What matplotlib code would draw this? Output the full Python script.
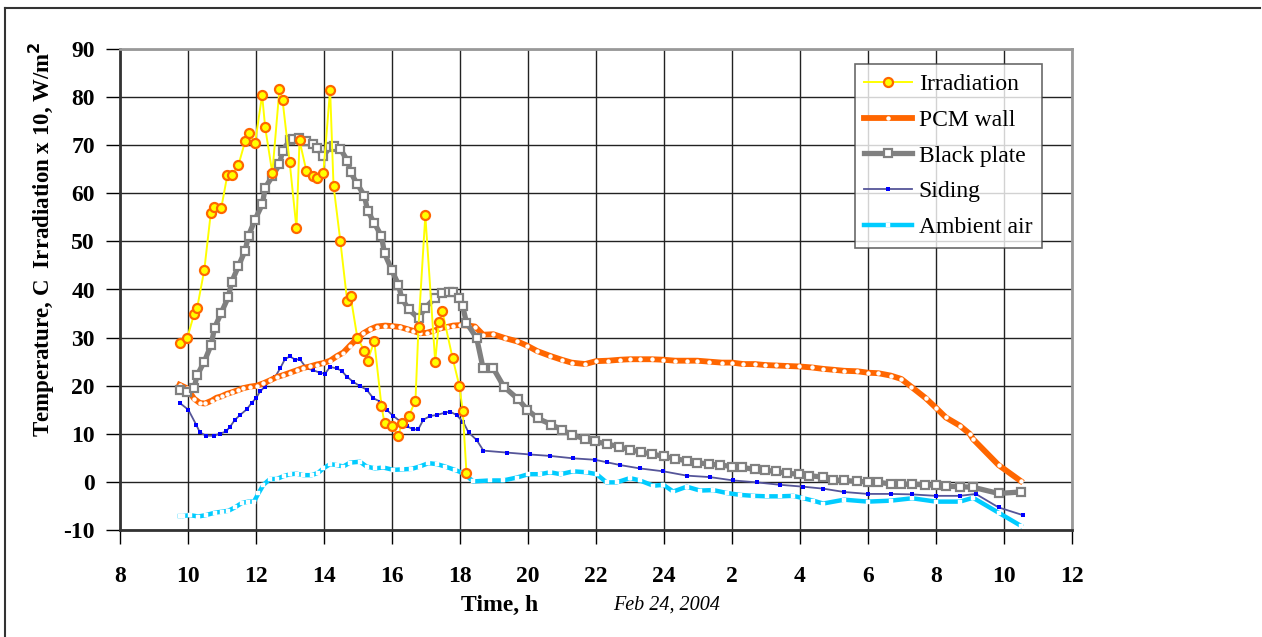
import matplotlib
matplotlib.use("Agg")
import matplotlib.pyplot as plt
from matplotlib.lines import Line2D

# time in hours from the start of Feb 24 (values > 24 are the next morning)
irr_t = [9.76, 9.98, 10.18, 10.27, 10.48, 10.67, 10.77, 10.98, 11.16, 11.28,
         11.48, 11.68, 11.78, 11.97, 12.18, 12.27, 12.48, 12.69, 12.78, 12.99,
         13.19, 13.28, 13.48, 13.67, 13.78, 13.98, 14.18, 14.28, 14.48, 14.68,
         14.78, 14.98, 15.19, 15.28, 15.48, 15.69, 15.78, 15.99, 16.19, 16.29,
         16.49, 16.69, 16.78, 16.98, 17.27, 17.38, 17.48, 17.78, 17.98, 18.08,
         18.19]
irr_v = [28.8, 30.0, 34.9, 36.2, 44.1, 55.9, 57.1, 57.0, 63.9, 63.8,
         65.8, 70.8, 72.6, 70.4, 80.4, 73.7, 64.2, 81.7, 79.4, 66.5,
         52.7, 71.0, 64.7, 63.7, 63.2, 64.2, 81.5, 61.6, 50.1, 37.7,
         38.7, 30.0, 27.2, 25.2, 29.2, 15.8, 12.2, 11.6, 9.6, 12.3,
         13.6, 16.9, 32.3, 55.4, 25.0, 33.2, 35.5, 25.8, 20.0, 14.8,
         1.9]

pcm_t = [9.75, 9.96, 10.18, 10.35, 10.5, 10.7, 10.84, 10.99, 11.14, 11.28,
         11.48, 11.63, 11.82, 12.02, 12.22, 12.41, 12.61, 12.8, 13.0, 13.2,
         13.39, 13.59, 13.78, 13.98, 14.18, 14.37, 14.57, 14.76, 14.96, 15.16,
         15.35, 15.55, 15.8, 15.99, 16.24, 16.43, 16.63, 16.82, 17.02, 17.22,
         17.41, 17.61, 17.8, 18.0, 18.25, 18.44, 18.68, 18.98, 19.32, 19.69,
         19.98, 20.27, 20.65, 20.99, 21.28, 21.68, 22.0, 22.36, 22.71, 23.0,
         23.3, 23.64, 23.98, 24.33, 24.67, 24.98, 25.33, 25.7, 26.0, 26.33,
         26.67, 26.97, 27.3, 27.61, 27.98, 28.34, 28.68, 29.0, 29.3, 29.69,
         30.0, 30.3, 30.67, 30.98, 31.27, 31.7, 32.0, 32.29, 32.7, 32.99,
         33.09, 33.84, 34.49]
pcm_v = [20.2, 19.5, 17.3, 16.4, 16.3, 16.9, 17.5, 17.8, 18.3, 18.6,
         19.1, 19.5, 19.8, 20.0, 20.5, 21.1, 21.8, 22.2, 22.7, 23.2,
         23.7, 24.0, 24.4, 24.7, 25.2, 26.1, 26.9, 28.3, 29.7, 30.9,
         31.7, 32.3, 32.5, 32.4, 32.2, 31.8, 31.4, 30.9, 31.0, 31.4,
         31.9, 32.2, 32.5, 32.6, 32.5, 32.3, 30.6, 30.7, 29.9, 29.2,
         28.3, 27.2, 26.2, 25.4, 24.8, 24.5, 25.1, 25.2, 25.4, 25.5,
         25.5, 25.5, 25.4, 25.2, 25.2, 25.2, 25.0, 24.8, 24.8, 24.5,
         24.5, 24.3, 24.2, 24.1, 24.0, 23.8, 23.5, 23.3, 23.1, 23.0,
         22.7, 22.6, 22.1, 21.4, 19.8, 17.4, 15.4, 13.4, 11.7, 10.0,
         8.9, 3.5, 0.2]

bp_t = [9.75, 9.96, 10.18, 10.27, 10.48, 10.68, 10.78, 10.98, 11.19, 11.28,
        11.48, 11.68, 11.78, 11.97, 12.19, 12.27, 12.48, 12.69, 12.78, 12.99,
        13.1, 13.27, 13.47, 13.69, 13.78, 13.98, 14.18, 14.28, 14.48, 14.69,
        14.78, 14.98, 15.19, 15.28, 15.48, 15.69, 15.78, 15.99, 16.19, 16.29,
        16.49, 16.78, 16.98, 17.27, 17.48, 17.69, 17.78, 17.98, 18.08, 18.19,
        18.49, 18.68, 18.98, 19.29, 19.71, 19.98, 20.29, 20.69, 21.0, 21.29,
        21.69, 21.98, 22.31, 22.69, 23.0, 23.31, 23.65, 24.0, 24.33, 24.67,
        24.98, 25.31, 25.66, 26.0, 26.3, 26.67, 26.98, 27.29, 27.61, 27.96,
        28.25, 28.68, 28.98, 29.3, 29.69, 30.0, 30.3, 30.67, 30.98, 31.3,
        31.67, 32.0, 32.29, 32.7, 33.08, 33.84, 34.49]
bp_v = [19.1, 18.6, 19.6, 22.2, 25.0, 28.5, 32.0, 35.2, 38.5, 41.5,
        44.8, 48.1, 51.2, 54.5, 57.8, 61.2, 63.5, 66.0, 68.8, 71.0,
        71.2, 71.4, 70.8, 70.3, 69.4, 67.8, 69.6, 69.9, 69.2, 66.8,
        64.4, 61.9, 59.5, 56.4, 53.8, 51.1, 47.5, 44.1, 41.0, 38.1,
        35.9, 34.0, 36.2, 38.3, 39.2, 39.5, 39.4, 38.2, 36.5, 33.1,
        29.9, 23.6, 23.6, 19.8, 17.2, 15.0, 13.2, 11.9, 10.8, 9.8,
        8.9, 8.4, 7.9, 7.3, 6.7, 6.2, 5.8, 5.3, 4.8, 4.4,
        4.0, 3.7, 3.5, 3.2, 3.0, 2.6, 2.4, 2.2, 1.8, 1.6,
        1.3, 1.0, 0.4, 0.3, 0.1, 0.0, -0.1, -0.4, -0.5, -0.5,
        -0.6, -0.7, -0.9, -1.0, -1.1, -2.4, -2.1]

sid_t = [9.76, 10.01, 10.24, 10.35, 10.53, 10.75, 10.94, 11.12, 11.24, 11.38,
         11.53, 11.73, 11.87, 12.0, 12.12, 12.26, 12.41, 12.56, 12.71, 12.85,
         13.0, 13.15, 13.29, 13.49, 13.69, 13.88, 14.03, 14.18, 14.37, 14.52,
         14.67, 14.86, 15.06, 15.25, 15.45, 15.65, 15.84, 16.04, 16.24, 16.43,
         16.63, 16.77, 16.92, 17.12, 17.31, 17.56, 17.71, 17.9, 18.1, 18.25,
         18.49, 18.69, 19.37, 20.06, 20.65, 21.33, 21.97, 22.31, 22.71, 23.29,
         23.98, 24.67, 25.35, 26.04, 26.73, 27.41, 28.1, 28.68, 29.3, 30.0,
         30.67, 31.3, 32.0, 32.7, 33.17, 33.84, 34.55]
sid_v = [16.4, 15.0, 11.9, 10.3, 9.6, 9.6, 10.0, 10.5, 11.5, 12.9,
         13.9, 15.1, 16.4, 17.4, 18.8, 19.8, 21.1, 21.8, 23.6, 25.5,
         26.1, 25.4, 25.5, 23.6, 23.2, 22.7, 22.5, 23.9, 23.6, 23.1,
         21.9, 20.8, 19.9, 19.2, 17.4, 16.7, 15.0, 13.7, 12.6, 11.6,
         10.9, 10.9, 12.9, 13.7, 13.9, 14.4, 14.6, 13.9, 12.4, 10.3,
         8.7, 6.5, 6.1, 5.7, 5.4, 4.9, 4.6, 4.1, 3.5, 2.8,
         2.2, 1.3, 1.0, 0.3, -0.1, -0.6, -1.0, -1.4, -2.1, -2.5,
         -2.5, -2.6, -2.9, -2.9, -2.5, -5.3, -6.9]

amb_t = [9.76, 9.86, 10.06, 10.3, 10.53, 10.79, 10.99, 11.19, 11.38, 11.58,
         11.77, 11.94, 12.07, 12.22, 12.41, 12.61, 12.81, 13.0, 13.2, 13.39,
         13.64, 13.83, 13.98, 14.18, 14.37, 14.57, 14.76, 15.06, 15.25, 15.5,
         15.74, 16.04, 16.28, 16.57, 16.82, 17.07, 17.32, 17.56, 17.85, 18.1,
         18.39, 18.88, 19.27, 19.67, 20.01, 20.35, 20.65, 20.96, 21.33, 21.72,
         22.02, 22.31, 22.61, 23.0, 23.29, 23.69, 23.98, 24.27, 24.67, 25.06,
         25.45, 25.84, 26.24, 26.63, 27.02, 27.41, 27.8, 28.1, 28.39, 28.68,
         29.3, 30.0, 30.67, 31.3, 32.0, 32.7, 33.09, 33.84, 34.49]
amb_v = [-7.1, -7.1, -6.9, -7.2, -6.9, -6.4, -6.2, -6.0, -5.3, -4.4,
         -4.1, -4.1, -2.4, -0.6, 0.6, 0.6, 1.2, 1.6, 1.7, 1.4,
         1.4, 1.9, 2.8, 3.7, 3.5, 3.2, 4.0, 4.2, 3.2, 2.8,
         3.0, 2.5, 2.6, 2.7, 3.2, 3.9, 3.7, 3.2, 2.5, 1.8,
         0.1, 0.3, 0.3, 0.9, 1.6, 1.6, 2.0, 1.6, 2.2, 2.0,
         1.6, -0.1, -0.1, 0.8, 0.3, -0.8, -0.6, -2.0, -1.0, -1.8,
         -1.7, -2.3, -2.7, -2.9, -3.0, -3.0, -2.9, -3.4, -3.9, -4.5,
         -3.7, -4.1, -3.9, -3.4, -4.1, -4.1, -3.3, -6.4, -9.1]

xticks = list(range(8, 37, 2))
xlabels = ['8', '10', '12', '14', '16', '18', '20', '22', '24',
           '2', '4', '6', '8', '10', '12']
yticks = list(range(-10, 91, 10))

plt.rcParams['font.family'] = ['Liberation Serif', 'DejaVu Serif']
plt.rcParams['axes.unicode_minus'] = False

fig = plt.figure(figsize=(12.62, 6.37), dpi=100)
ax = fig.add_axes([120/1262, 107/637, 952/1262, 481/637])

# series styles
s_irr = dict(color='#FFFF00', lw=1.4, marker='o', ms=6.5, mfc='#FFFF00',
             mec='#FF6600', mew=1.6)
s_pcm = dict(color='#FF6600', lw=4.2, marker='o', ms=3.2, mfc='white',
             mec='white', mew=0)
s_bp = dict(color='#808080', lw=3.8, marker='s', ms=6.4, mfc='white',
            mec='#808080', mew=1.6)
s_sid = dict(color='#555599', lw=1.3, marker='s', ms=2.6, mfc='#0000FF',
             mec='#0000FF', mew=0)
s_amb = dict(color='#00CCFF', lw=3.2, marker='s', ms=2.6, mfc='white',
             mec='white', mew=0.3)

ax.plot(amb_t, amb_v, zorder=3, **s_amb)
ax.plot(sid_t, sid_v, zorder=4, **s_sid)
ax.plot(pcm_t, pcm_v, zorder=5, **s_pcm)
ax.plot(bp_t, bp_v, zorder=6, **s_bp)
ax.plot(irr_t, irr_v, zorder=7, **s_irr)

ax.set_xlim(8, 36)
ax.set_ylim(-10, 90)
ax.set_xticks(xticks)
ax.set_xticklabels(xlabels, fontweight='bold', fontsize=17)
ax.set_yticks(yticks)
ax.set_yticklabels([str(v) for v in yticks], fontweight='bold', fontsize=17)
ax.grid(True, color='#222222', lw=1.0)
ax.set_axisbelow(True)

ax.tick_params(axis='x', direction='out', length=10, width=1, pad=16)
ax.tick_params(axis='y', direction='out', length=10, width=1, pad=8)

for side in ['left', 'bottom']:
    ax.spines[side].set_color('#333333')
    ax.spines[side].set_linewidth(2)
for side in ['top', 'right']:
    ax.spines[side].set_color('#999999')
    ax.spines[side].set_linewidth(2)

fig.text(42/1262, (637 - 239)/637,
         'Temperature, C  Irradiation x 10, W/m$^\\mathbf{2}$',
         rotation=90, ha='center', va='center', fontsize=16.5, fontweight='bold')

fig.text(500/1262, 32/637, 'Time, h', ha='center', va='center',
         fontsize=17, fontweight='bold')
fig.text(667/1262, 32/637, 'Feb 24, 2004', ha='center', va='center',
         fontsize=14.5, style='italic')

handles = [Line2D([], [], **s_irr), Line2D([], [], **s_pcm),
           Line2D([], [], **s_bp), Line2D([], [], **s_sid),
           Line2D([], [], **s_amb)]
names = ['Irradiation', 'PCM wall', 'Black plate', 'Siding', 'Ambient air']
leg = ax.legend(handles, names, loc='upper left', bbox_to_anchor=(0.772, 0.968),
                fontsize=17, frameon=True, fancybox=False, handlelength=2.0,
                handletextpad=0.3, borderpad=0.4, labelspacing=0.6,
                borderaxespad=0)
leg.get_frame().set_edgecolor('#444444')
leg.get_frame().set_linewidth(1.2)
leg.set_zorder(10)

# figure border (top and left edge)
fig.add_artist(Line2D([5/1262, 1260/1262], [629/637, 629/637], color='#333333', lw=1.5))
fig.add_artist(Line2D([5/1262, 5/1262], [0, 629/637], color='#333333', lw=1.5))

fig.savefig('out.png', dpi=100)
